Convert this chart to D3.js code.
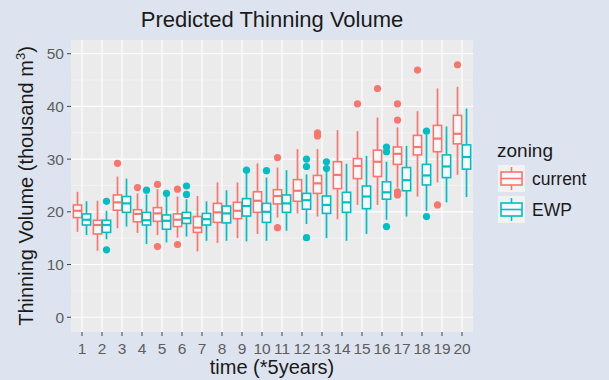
<!DOCTYPE html>
<html>
<head>
<meta charset="utf-8">
<script src="https://cdn.jsdelivr.net/npm/d3@7"></script>
<style>
  body { margin: 0; background: #dde4ef; }
  svg { display: block; font-family: "Liberation Sans", Arial, sans-serif; }
</style>
</head>
<body>
<div id="chart"></div>
<script>

// time steps (*5 years)
var times = d3.range(1, 21);
var yTicks = [0, 10, 20, 30, 40, 50];

// zoning = current
var curLow  = [16.2, 12.6, 16.9, 16.0, 15.6, 15.1, 12.5, 14.1, 15.0, 15.8, 18.9, 19.7, 19.1, 18.6, 21.3, 21.3, 24.6, 22.9, 25.6, 27.0];
var curQ1   = [18.9, 15.8, 20.3, 18.1, 18.2, 17.2, 16.1, 18.0, 18.7, 19.9, 21.5, 22.0, 23.5, 24.4, 26.3, 26.7, 29.0, 30.8, 31.4, 32.9];
var curMed  = [20.2, 17.5, 21.8, 19.6, 19.7, 18.5, 17.0, 19.9, 20.2, 22.1, 23.0, 24.0, 25.4, 27.0, 28.7, 29.5, 31.0, 32.3, 33.9, 34.8];
var curQ3   = [21.3, 18.4, 23.2, 20.4, 20.8, 19.6, 19.1, 21.6, 21.8, 23.8, 24.2, 26.1, 26.9, 29.5, 30.1, 31.7, 32.3, 34.5, 36.4, 38.3];
var curHigh = [23.8, 22.1, 26.7, 23.5, 24.3, 22.9, 23.0, 25.6, 25.6, 29.2, 28.4, 31.9, 31.9, 35.5, 35.3, 37.9, 36.0, 39.1, 43.4, 43.7];
var curOut  = [[], [], [29.2], [24.6], [25.2, 13.4], [24.3, 13.8], [], [], [], [], [30.3, 17.0], [], [35.0, 34.4], [], [40.5], [43.4], [40.5, 37.4, 23.8, 23.2], [46.9], [21.3], [47.9]];

// zoning = EWP
var ewpLow  = [15.6, 14.8, 17.2, 13.9, 14.2, 15.3, 14.5, 14.5, 14.4, 14.5, 16.4, 17.7, 15.0, 14.5, 15.8, 18.5, 19.1, 20.2, 21.8, 22.8];
var ewpQ1   = [17.5, 16.1, 19.9, 17.5, 16.7, 17.8, 17.5, 17.9, 19.2, 18.0, 19.9, 20.5, 19.7, 19.9, 20.6, 22.4, 24.0, 25.1, 26.5, 28.1];
var ewpMed  = [18.5, 17.5, 21.6, 18.4, 18.3, 18.8, 18.6, 19.7, 21.1, 20.0, 21.6, 22.2, 21.3, 21.8, 22.9, 23.7, 26.0, 26.9, 28.6, 30.4];
var ewpQ3   = [19.6, 18.4, 22.9, 19.9, 19.4, 19.9, 19.7, 21.1, 22.5, 21.6, 23.2, 23.5, 23.0, 23.7, 24.9, 25.7, 28.4, 29.0, 30.8, 32.7];
var ewpHigh = [22.0, 20.2, 26.3, 23.3, 23.0, 22.4, 22.0, 24.1, 27.4, 26.5, 27.9, 27.1, 27.8, 29.1, 30.6, 29.5, 32.5, 34.7, 36.2, 39.6];
var ewpOut  = [[], [22.0, 12.8], [], [24.1], [23.5], [24.9, 23.3], [], [], [27.9], [27.8], [], [30.0, 28.6, 15.1], [29.5, 28.2], [], [], [32.3, 31.4, 17.2], [], [35.3, 19.1], [], []];

var zonings = ['current', 'EWP'];
var colors = ['#F8766D', '#00BFC4'];

function series(low, q1, med, q3, high, out) {
  return times.map((t, i) => ({ t: t, low: low[i], q1: q1[i], med: med[i], q3: q3[i], high: high[i], out: out[i] }));
}
var groups = [
  series(curLow, curQ1, curMed, curQ3, curHigh, curOut),
  series(ewpLow, ewpQ1, ewpMed, ewpQ3, ewpHigh, ewpOut)
];

var W = 609, H = 380,
    panel = { left: 71, right: 473, top: 40, bottom: 332 };

var x = d3.scalePoint()
    .domain(times)
    .range([panel.left, panel.right])
    .padding(0.55);

var dodge = d3.scaleBand()
    .domain(zonings)
    .range([-x.step() * 0.45, x.step() * 0.45]);

var y = d3.scaleLinear()
    .domain([-2.8, 52.6])
    .range([panel.bottom, panel.top]);

var svg = d3.select('#chart').append('svg')
    .attr('width', W)
    .attr('height', H);

svg.append('rect').attr('width', W).attr('height', H).attr('fill', '#dde4ef');

// panel + grid
svg.append('rect')
    .attr('x', panel.left).attr('y', panel.top)
    .attr('width', panel.right - panel.left)
    .attr('height', panel.bottom - panel.top)
    .attr('fill', '#ebebeb');

var minor = d3.range(5, 50, 10);
svg.append('g').selectAll('line').data(minor).enter()
  .append('line')
    .attr('x1', panel.left).attr('x2', panel.right)
    .attr('y1', d => y(d)).attr('y2', d => y(d))
    .attr('stroke', '#f7f7f7').attr('stroke-width', 0.6);

svg.append('g').selectAll('line').data(yTicks).enter()
  .append('line')
    .attr('x1', panel.left).attr('x2', panel.right)
    .attr('y1', d => y(d)).attr('y2', d => y(d))
    .attr('stroke', '#fff').attr('stroke-width', 1.1);

svg.append('g').selectAll('line').data(times).enter()
  .append('line')
    .attr('x1', d => x(d)).attr('x2', d => x(d))
    .attr('y1', panel.top).attr('y2', panel.bottom)
    .attr('stroke', '#fff').attr('stroke-width', 1.1);

// boxplots
var bw = dodge.bandwidth() * 0.92;

groups.forEach(function (g, k) {
  var col = colors[k];
  var cx = d => x(d.t) + dodge(zonings[k]) + dodge.bandwidth() / 2;
  var box = svg.append('g').attr('class', 'box-' + zonings[k])
    .selectAll('g').data(g).enter().append('g');

  box.append('line')
      .attr('x1', cx).attr('x2', cx)
      .attr('y1', d => y(d.high)).attr('y2', d => y(d.q3))
      .attr('stroke', col).attr('stroke-width', 1.7);
  box.append('line')
      .attr('x1', cx).attr('x2', cx)
      .attr('y1', d => y(d.q1)).attr('y2', d => y(d.low))
      .attr('stroke', col).attr('stroke-width', 1.7);
  box.append('rect')
      .attr('x', d => cx(d) - bw / 2)
      .attr('width', bw)
      .attr('y', d => y(d.q3))
      .attr('height', d => y(d.q1) - y(d.q3))
      .attr('fill', '#f9f9fb')
      .attr('stroke', col).attr('stroke-width', 1.6);
  box.append('line')
      .attr('x1', d => cx(d) - bw / 2).attr('x2', d => cx(d) + bw / 2)
      .attr('y1', d => y(d.med)).attr('y2', d => y(d.med))
      .attr('stroke', col).attr('stroke-width', 2.2);
  box.selectAll('circle').data(d => d.out.map(v => ({ t: d.t, v: v }))).enter()
    .append('circle')
      .attr('cx', cx)
      .attr('cy', d => y(d.v))
      .attr('r', 3.6)
      .attr('fill', col);
});

// axes
var tickCol = '#5e5e5e';
svg.append('g').selectAll('line').data(yTicks).enter()
  .append('line')
    .attr('x1', panel.left - 4).attr('x2', panel.left)
    .attr('y1', d => y(d)).attr('y2', d => y(d))
    .attr('stroke', '#444').attr('stroke-width', 1);
svg.append('g').selectAll('text').data(yTicks).enter()
  .append('text')
    .attr('x', panel.left - 7)
    .attr('y', d => y(d))
    .attr('dy', '.36em')
    .attr('text-anchor', 'end')
    .attr('font-size', 15.5)
    .attr('fill', tickCol)
    .text(String);

svg.append('g').selectAll('line').data(times).enter()
  .append('line')
    .attr('x1', d => x(d)).attr('x2', d => x(d))
    .attr('y1', panel.bottom).attr('y2', panel.bottom + 4)
    .attr('stroke', '#444').attr('stroke-width', 1);
svg.append('g').selectAll('text').data(times).enter()
  .append('text')
    .attr('x', d => x(d))
    .attr('y', 353.5)
    .attr('text-anchor', 'middle')
    .attr('font-size', 15.5)
    .attr('fill', tickCol)
    .text(String);

// titles
svg.append('text')
    .attr('x', (panel.left + panel.right) / 2)
    .attr('y', 27)
    .attr('text-anchor', 'middle')
    .attr('font-size', 22)
    .attr('fill', '#1a1a1a')
    .text('Predicted Thinning Volume');

svg.append('text')
    .attr('x', (panel.left + panel.right) / 2)
    .attr('y', 374)
    .attr('text-anchor', 'middle')
    .attr('font-size', 20)
    .attr('fill', '#1a1a1a')
    .text('time (*5years)');

var yTitle = svg.append('text')
    .attr('transform', `translate(33,${(panel.top + panel.bottom) / 2}) rotate(-90)`)
    .attr('text-anchor', 'middle')
    .attr('font-size', 20)
    .attr('fill', '#1a1a1a');
yTitle.append('tspan').text('Thinning Volume (thousand m');
yTitle.append('tspan').attr('font-size', 13).attr('dy', -8).text('3');
yTitle.append('tspan').attr('dy', 8).text(')');

// legend
var legend = svg.append('g').attr('transform', 'translate(497,0)');
legend.append('text')
    .attr('x', 0).attr('y', 157)
    .attr('font-size', 19)
    .attr('fill', '#1a1a1a')
    .text('zoning');

var keys = legend.selectAll('g.key').data(zonings).enter()
  .append('g')
    .attr('class', 'key')
    .attr('transform', (d, i) => `translate(1,${165 + i * 31})`);
keys.append('rect')
    .attr('width', 27).attr('height', 27)
    .attr('fill', '#f2f2f2');
keys.append('line')
    .attr('x1', 13.5).attr('x2', 13.5).attr('y1', 2).attr('y2', 25)
    .attr('stroke', (d, i) => colors[i]).attr('stroke-width', 1.6);
keys.append('rect')
    .attr('x', 3).attr('y', 7).attr('width', 21).attr('height', 13)
    .attr('fill', '#f9f9fb')
    .attr('stroke', (d, i) => colors[i]).attr('stroke-width', 1.6);
keys.append('line')
    .attr('x1', 3).attr('x2', 24).attr('y1', 13.5).attr('y2', 13.5)
    .attr('stroke', (d, i) => colors[i]).attr('stroke-width', 1.6);
keys.append('text')
    .attr('x', 34).attr('y', 13.5)
    .attr('dy', '.36em')
    .attr('font-size', 17.5)
    .attr('fill', '#1a1a1a')
    .text(String);

</script>
</body>
</html>
